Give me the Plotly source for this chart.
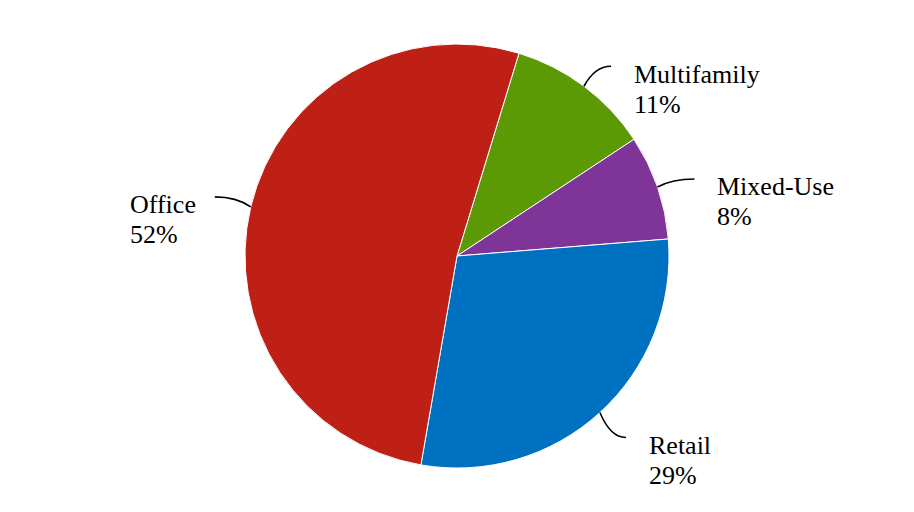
import math
import plotly.graph_objects as go

# Data
labels = ["Multifamily", "Mixed-Use", "Retail", "Office"]
shares = [11, 8, 29, 52]
colors = ["#5B9A05", "#7F3598", "#0070C0", "#BE2016"]

# Layout constants (pixels, measured in the browser window)
W, H = 914, 512
PAGE_MARGIN = 8          # default body margin of the html page
CX, CY, R = 457, 256, 212
ROTATION = 17
FONT = "Liberation Serif"
FONT_SIZE = 26
# leader line end, relative to the slice edge point at mid-angle
LEADER_OFFSETS = [(27, -20), (37, -8), (26, 25), (-36, -10)]
# left edge of label text, relative to the leader line end
TEXT_OFFSETS = [(21, 8), (21, 8), (21, 8), (-87, 8)]
LINE_GAP = 30

fig = go.Figure(go.Pie(
    labels=labels, values=shares, sort=False, direction="clockwise",
    rotation=ROTATION, textinfo="none", hoverinfo="label+percent",
    marker=dict(colors=colors, line=dict(color="white", width=1)),
    domain=dict(x=[0, 2 * (CX - PAGE_MARGIN) / W],
                y=[1 - (CY + R - PAGE_MARGIN) / H, 1 - (CY - R - PAGE_MARGIN) / H]),
))

def px(x, y):
    return (x - PAGE_MARGIN) / W, 1 - (y - PAGE_MARGIN) / H

total = sum(shares)
start = ROTATION
for lab, val, (dx, dy), (tx, ty) in zip(labels, shares, LEADER_OFFSETS, TEXT_OFFSETS):
    sweep = 360 * val / total
    mid = math.radians(start + sweep / 2)
    start += sweep
    sx, sy = CX + R * math.sin(mid), CY - R * math.cos(mid)
    ex, ey = sx + dx, sy + dy
    cx, cy = sx + 0.4 * dx, ey
    p = [px(sx, sy), px(cx, cy), px(ex, ey)]
    fig.add_shape(type="path", xref="paper", yref="paper",
                  path=f"M {p[0][0]},{p[0][1]} Q {p[1][0]},{p[1][1]} {p[2][0]},{p[2][1]}",
                  line=dict(color="black", width=1.6))
    for i, txt in enumerate([lab, f"{round(100 * val / total)}%"]):
        ax, ay = px(ex + tx, ey + ty + LINE_GAP * i)
        fig.add_annotation(x=ax, y=ay, xref="paper", yref="paper", text=txt,
                           showarrow=False, xanchor="left", yanchor="middle",
                           font=dict(family=FONT, size=FONT_SIZE, color="black"))

fig.update_layout(
    width=W, height=H, showlegend=False,
    margin=dict(l=0, r=0, t=0, b=0),
    paper_bgcolor="white", plot_bgcolor="white",
)

fig.write_html("out.html")
